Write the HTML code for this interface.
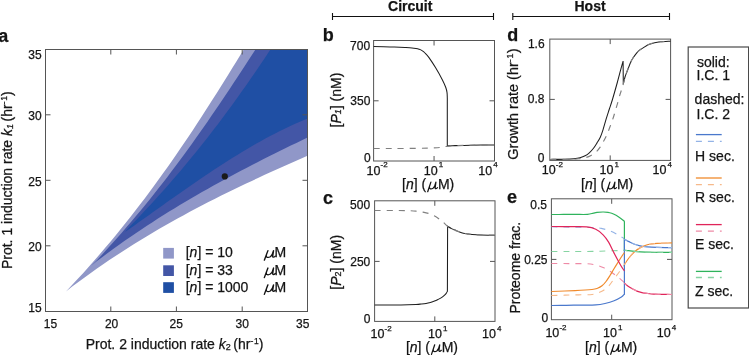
<!DOCTYPE html><html><head><meta charset="utf-8"><style>html,body{margin:0;padding:0;background:#fff;overflow:hidden;}svg{display:block;will-change:transform;}text{font-family:"Liberation Sans",sans-serif;fill:#141414;stroke:#141414;stroke-width:0.25px;}</style></head><body>
<svg width="749" height="355" viewBox="0 0 749 355">
<polygon points="66.0,291.5 71.8,285.3 77.6,279.1 83.3,272.9 88.8,266.7 94.3,260.5 99.7,254.3 105.0,248.1 110.2,241.9 115.4,235.7 120.4,229.4 125.4,223.2 130.4,217.0 135.2,210.8 140.0,204.6 144.7,198.4 149.3,192.2 153.9,186.0 158.4,179.8 162.9,173.6 167.3,167.4 171.7,161.2 176.0,155.0 180.2,148.8 184.5,142.6 188.6,136.4 192.8,130.2 196.8,124.0 200.9,117.8 204.9,111.6 208.9,105.3 212.9,99.1 216.8,92.9 220.7,86.7 224.6,80.5 228.5,74.3 232.3,68.1 236.1,61.9 239.9,55.7 243.7,49.5 307.5,49.5 307.5,155.8 301.3,158.5 295.1,161.2 288.9,163.9 282.7,166.7 276.5,169.5 270.3,172.3 264.2,175.1 258.0,178.0 251.8,180.9 245.6,183.8 239.4,186.7 233.2,189.7 227.0,192.7 220.8,195.8 214.6,198.9 208.4,202.1 202.2,205.3 196.0,208.5 189.8,211.8 183.7,215.2 177.5,218.6 171.3,222.0 165.1,225.5 158.9,229.1 152.7,232.7 146.5,236.4 140.3,240.2 134.1,244.1 127.9,248.0 121.7,251.9 115.5,256.0 109.3,260.1 103.2,264.3 97.0,268.6 90.8,273.0 84.6,277.4 78.4,281.9 72.2,286.6" fill="#9097c8"/>
<polygon points="91.0,266.0 96.6,260.4 101.8,254.9 106.9,249.3 111.9,243.8 116.9,238.2 121.8,232.7 126.6,227.1 131.4,221.6 136.0,216.0 140.7,210.5 145.2,204.9 149.7,199.4 154.2,193.8 158.5,188.3 162.9,182.7 167.2,177.2 171.4,171.6 175.6,166.1 179.7,160.5 183.8,155.0 187.8,149.4 191.8,143.9 195.8,138.3 199.7,132.8 203.6,127.2 207.5,121.7 211.3,116.1 215.1,110.6 218.9,105.0 222.6,99.5 226.3,93.9 230.0,88.4 233.7,82.8 237.4,77.3 241.0,71.7 244.6,66.2 248.3,60.6 251.9,55.1 255.5,49.5 307.5,49.5 307.5,137.5 301.9,140.2 296.4,142.9 290.8,145.6 285.3,148.3 279.7,151.0 274.2,153.8 268.6,156.5 263.1,159.3 257.5,162.2 252.0,165.0 246.4,167.9 240.9,170.8 235.3,173.7 229.8,176.7 224.2,179.7 218.7,182.7 213.1,185.8 207.6,188.9 202.0,192.0 196.5,195.2 190.9,198.5 185.4,201.7 179.8,205.1 174.3,208.4 168.7,211.8 163.2,215.3 157.6,218.8 152.1,222.4 146.5,226.0 141.0,229.7 135.4,233.4 129.9,237.2 124.3,241.1 118.8,245.0 113.2,249.0 107.7,253.0 102.1,257.2 96.6,261.3" fill="#4356a6"/>
<polygon points="125.0,232.0 129.0,227.3 133.6,222.6 138.1,218.0 142.5,213.3 146.9,208.6 151.2,203.9 155.5,199.2 159.7,194.6 163.9,189.9 168.1,185.2 172.1,180.5 176.2,175.8 180.2,171.2 184.1,166.5 188.0,161.8 191.9,157.1 195.7,152.4 199.5,147.8 203.2,143.1 206.9,138.4 210.5,133.7 214.1,129.1 217.7,124.4 221.2,119.7 224.7,115.0 228.2,110.3 231.6,105.7 235.0,101.0 238.4,96.3 241.7,91.6 245.0,86.9 248.3,82.3 251.5,77.6 254.7,72.9 257.9,68.2 261.1,63.5 264.2,58.9 267.3,54.2 270.4,49.5 307.5,49.5 307.5,118.6 302.8,120.5 298.1,122.5 293.5,124.6 288.8,126.7 284.1,129.0 279.4,131.3 274.7,133.7 270.1,136.1 265.4,138.6 260.7,141.2 256.0,143.8 251.3,146.5 246.7,149.3 242.0,152.1 237.3,154.9 232.6,157.8 227.9,160.8 223.3,163.7 218.6,166.8 213.9,169.8 209.2,172.9 204.6,176.1 199.9,179.2 195.2,182.4 190.5,185.7 185.8,188.9 181.2,192.2 176.5,195.5 171.8,198.8 167.1,202.1 162.4,205.4 157.8,208.7 153.1,212.1 148.4,215.4 143.7,218.8 139.0,222.1 134.4,225.5 129.7,228.8" fill="#1f4fa4"/>
<circle cx="224.8" cy="176.4" r="3.1" fill="#1a1a1a"/>
<rect x="163.2" y="247.9" width="10.7" height="10.7" fill="#9097c8"/>
<text x="185.7" y="257.4" font-size="14">[<tspan font-style="italic">n</tspan>] = 10</text>
<path transform="translate(264.0,257.4) scale(1.12,1)" d="M0.3,2.8 L3.5,-6.8 M2.1,-2.2 C1.5,0.2 3.8,0.5 5.6,-0.7 C7.1,-1.8 7.9,-3.8 8.5,-6.8 M8.5,-6.8 L7.8,-1.4 C7.6,0.1 8.7,0.2 10.1,-1.3" fill="none" stroke="#141414" stroke-width="1.25" stroke-linecap="round"/>
<text x="274.6" y="257.4" font-size="14">M</text>
<rect x="163.2" y="265.3" width="10.7" height="10.7" fill="#4356a6"/>
<text x="185.7" y="274.8" font-size="14">[<tspan font-style="italic">n</tspan>] = 33</text>
<path transform="translate(264.0,274.8) scale(1.12,1)" d="M0.3,2.8 L3.5,-6.8 M2.1,-2.2 C1.5,0.2 3.8,0.5 5.6,-0.7 C7.1,-1.8 7.9,-3.8 8.5,-6.8 M8.5,-6.8 L7.8,-1.4 C7.6,0.1 8.7,0.2 10.1,-1.3" fill="none" stroke="#141414" stroke-width="1.25" stroke-linecap="round"/>
<text x="274.6" y="274.8" font-size="14">M</text>
<rect x="163.2" y="282.2" width="10.7" height="10.7" fill="#1f4fa4"/>
<text x="185.7" y="291.6" font-size="14">[<tspan font-style="italic">n</tspan>] = 1000</text>
<path transform="translate(264.0,291.6) scale(1.12,1)" d="M0.3,2.8 L3.5,-6.8 M2.1,-2.2 C1.5,0.2 3.8,0.5 5.6,-0.7 C7.1,-1.8 7.9,-3.8 8.5,-6.8 M8.5,-6.8 L7.8,-1.4 C7.6,0.1 8.7,0.2 10.1,-1.3" fill="none" stroke="#141414" stroke-width="1.25" stroke-linecap="round"/>
<text x="274.6" y="291.6" font-size="14">M</text>
<rect x="45.5" y="49.5" width="262" height="262" fill="none" stroke="#555555" stroke-width="1"/>
<path d="M110.8,311.5V306.5M110.8,49.5V54.5M176.4,311.5V306.5M176.4,49.5V54.5M242.2,311.5V306.5M242.2,49.5V54.5M45.5,114.8H50.5M307.5,114.8H302.5M45.5,180.3H50.5M307.5,180.3H302.5M45.5,245.8H50.5M307.5,245.8H302.5" stroke="#555555" stroke-width="1" fill="none"/>
<text x="41.6" y="58.9" font-size="12" text-anchor="end">35</text>
<text x="41.6" y="119.7" font-size="12" text-anchor="end">30</text>
<text x="41.6" y="186.2" font-size="12" text-anchor="end">25</text>
<text x="41.6" y="250.7" font-size="12" text-anchor="end">20</text>
<text x="41.6" y="312.4" font-size="12" text-anchor="end">15</text>
<text x="50.4" y="328.2" font-size="12" text-anchor="middle" font-weight="normal" >15</text>
<text x="111.6" y="328.2" font-size="12" text-anchor="middle" font-weight="normal" >20</text>
<text x="176.2" y="328.2" font-size="12" text-anchor="middle" font-weight="normal" >25</text>
<text x="242.2" y="328.2" font-size="12" text-anchor="middle" font-weight="normal" >30</text>
<text x="302.7" y="328.2" font-size="12" text-anchor="middle" font-weight="normal" >35</text>
<text x="-1.8" y="41.6" font-size="18" text-anchor="start" font-weight="bold" >a</text>
<text x="85.7" y="348.8" font-size="14">Prot. 2 induction rate <tspan font-style="italic">k</tspan><tspan font-size="9" dy="1.6">2 </tspan><tspan dy="-1.6">(hr</tspan><tspan font-size="8.5" dy="-5.2">-</tspan><tspan font-size="8.5" dx="0.8">1</tspan><tspan dy="5.2">)</tspan></text>
<text transform="translate(11.8,180.2) rotate(-90)" font-size="14" text-anchor="middle">Prot. 1 induction rate <tspan font-style="italic">k</tspan><tspan font-size="9" dy="1.6" font-style="italic">1 </tspan><tspan dy="-1.6">(hr</tspan><tspan font-size="8.5" dy="-5.2">-</tspan><tspan font-size="8.5" dx="0.8">1</tspan><tspan dy="5.2">)</tspan></text>
<text x="410.2" y="11.0" font-size="14" text-anchor="middle" font-weight="bold" >Circuit</text>
<text x="590.05" y="10.7" font-size="14" text-anchor="middle" font-weight="bold" >Host</text>
<path d="M332.5,16.5H493.5M332.5,13.1V19.9M493.5,13.1V19.9M512.8,16.5H669.5M512.8,13.1V19.9M669.5,13.1V19.9" stroke="#111" stroke-width="1.1" fill="none"/>
<rect x="373.6" y="40.5" width="120.89999999999998" height="120.5" fill="none" stroke="#555555" stroke-width="1"/><path d="M434.05,40.5V45.5M434.05,161.0V156.0M373.6,100.8H378.6M494.5,100.8H489.5" stroke="#555555" stroke-width="1" fill="none"/>
<text x="370.1" y="49.8" font-size="12" text-anchor="end">700</text>
<text x="370.4" y="105" font-size="12" text-anchor="end">350</text>
<text x="370.6" y="161.5" font-size="12" text-anchor="end">0</text>
<text x="366.6" y="174.5" font-size="12.5">10<tspan font-size="8" dx="0.1" dy="-7.1">-2</tspan></text>
<text x="423.8" y="174.5" font-size="12.5">10<tspan font-size="8" dx="1.1" dy="-7.1">1</tspan></text>
<text x="478.3" y="174.5" font-size="12.5">10<tspan font-size="8" dx="1.1" dy="-7.1">4</tspan></text>
<text x="402.1" y="188.9" font-size="14">[<tspan font-style="italic">n</tspan>] (</text><path transform="translate(427.40000000000003,188.9) scale(1.0,1)" d="M0.3,2.8 L3.5,-6.8 M2.1,-2.2 C1.5,0.2 3.8,0.5 5.6,-0.7 C7.1,-1.8 7.9,-3.8 8.5,-6.8 M8.5,-6.8 L7.8,-1.4 C7.6,0.1 8.7,0.2 10.1,-1.3" fill="none" stroke="#141414" stroke-width="1.25" stroke-linecap="round"/><text x="437.9" y="188.9" font-size="14">M)</text>
<text x="322.7" y="40.7" font-size="18" text-anchor="start" font-weight="bold" >b</text>
<text transform="translate(340.9,100.0) rotate(-90)" font-size="14" text-anchor="middle">[<tspan font-style="italic">P</tspan><tspan font-size="9" dy="0.4" font-style="italic">1</tspan><tspan dy="-0.4">] (nM)</tspan></text>
<path d="M373.70,46.50 C376.42,46.57 384.78,46.73 390.00,46.90 C395.22,47.07 401.33,47.33 405.00,47.50 C408.67,47.67 410.17,47.73 412.00,47.90 C413.83,48.07 414.83,48.27 416.00,48.50 C417.17,48.73 418.00,48.95 419.00,49.30 C420.00,49.65 421.00,49.98 422.00,50.60 C423.00,51.22 423.83,51.83 425.00,53.00 C426.17,54.17 427.25,55.17 429.00,57.60 C430.75,60.03 433.28,63.92 435.50,67.60 C437.72,71.28 440.60,76.42 442.30,79.70 C444.00,82.98 444.92,85.18 445.70,87.30 C446.48,89.42 446.73,90.62 447.00,92.40 C447.27,94.18 447.25,96.40 447.30,98.00 C447.35,99.60 447.30,101.33 447.30,102.00 L447.3,145.9 L447.30,145.90 C448.17,145.87 448.58,145.82 452.50,145.70 C456.42,145.58 463.80,145.32 470.80,145.20 C477.80,145.08 490.55,145.03 494.50,145.00" fill="none" stroke="#1e1e1e" stroke-width="1.05"/>
<path d="M373.70,148.50 C375.89,148.50 382.47,148.50 386.85,148.50 C391.23,148.50 394.48,148.53 400.00,148.50 C405.52,148.47 414.67,148.40 420.00,148.30 C425.33,148.20 428.67,148.03 432.00,147.90 C435.33,147.77 438.00,147.67 440.00,147.50 C442.00,147.33 442.78,147.12 444.00,146.90 C445.22,146.68 445.88,146.40 447.30,146.20 C448.72,146.00 448.58,145.87 452.50,145.70 C456.42,145.53 463.80,145.32 470.80,145.20 C477.80,145.08 490.55,145.03 494.50,145.00" fill="none" stroke="#808080" stroke-width="1.15" stroke-dasharray="6 6"/>
<rect x="374.6" y="200.8" width="120.39999999999998" height="120.59999999999997" fill="none" stroke="#555555" stroke-width="1"/><path d="M434.8,200.8V205.8M434.8,321.4V316.4M374.6,261.4H379.6M495,261.4H490" stroke="#555555" stroke-width="1" fill="none"/>
<text x="370.1" y="208.6" font-size="12" text-anchor="end">500</text>
<text x="370.3" y="265.6" font-size="12" text-anchor="end">250</text>
<text x="370.4" y="322.8" font-size="12" text-anchor="end">0</text>
<text x="370.6" y="337.6" font-size="12.5">10<tspan font-size="8" dx="0.1" dy="-7.1">-2</tspan></text>
<text x="428.0" y="337.6" font-size="12.5">10<tspan font-size="8" dx="1.1" dy="-7.1">1</tspan></text>
<text x="482.0" y="337.6" font-size="12.5">10<tspan font-size="8" dx="1.1" dy="-7.1">4</tspan></text>
<text x="405.9" y="351.6" font-size="14">[<tspan font-style="italic">n</tspan>] (</text><path transform="translate(431.20000000000005,351.6) scale(1.0,1)" d="M0.3,2.8 L3.5,-6.8 M2.1,-2.2 C1.5,0.2 3.8,0.5 5.6,-0.7 C7.1,-1.8 7.9,-3.8 8.5,-6.8 M8.5,-6.8 L7.8,-1.4 C7.6,0.1 8.7,0.2 10.1,-1.3" fill="none" stroke="#141414" stroke-width="1.25" stroke-linecap="round"/><text x="441.7" y="351.6" font-size="14">M)</text>
<text x="323.1" y="203.6" font-size="18" text-anchor="start" font-weight="bold" >c</text>
<text transform="translate(340.9,262.3) rotate(-90)" font-size="14" text-anchor="middle">[<tspan font-style="italic">P</tspan><tspan font-size="9" dy="0.4">2</tspan><tspan dy="-0.4">] (nM)</tspan></text>
<path d="M374.70,305.00 C376.89,304.99 383.47,304.97 387.85,304.95 C392.23,304.93 396.31,304.99 401.00,304.90 C405.69,304.81 412.65,304.55 416.00,304.40 C419.35,304.25 419.43,304.17 421.10,304.00 C422.77,303.83 424.45,303.67 426.00,303.40 C427.55,303.13 428.98,302.78 430.40,302.40 C431.82,302.02 433.20,301.60 434.50,301.10 C435.80,300.60 437.03,299.98 438.20,299.40 C439.37,298.82 440.48,298.27 441.50,297.60 C442.52,296.93 443.52,296.10 444.30,295.40 C445.08,294.70 445.68,294.10 446.20,293.40 C446.72,292.70 447.20,291.57 447.40,291.20 L447.6,226.3 L447.60,226.30 C448.25,226.68 450.15,227.92 451.50,228.60 C452.85,229.28 454.37,229.83 455.70,230.40 C457.03,230.97 458.23,231.53 459.50,232.00 C460.77,232.47 461.97,232.88 463.30,233.20 C464.63,233.52 466.02,233.68 467.50,233.90 C468.98,234.12 469.95,234.32 472.20,234.50 C474.45,234.68 477.23,234.88 481.00,235.00 C484.77,235.12 492.50,235.17 494.80,235.20" fill="none" stroke="#1e1e1e" stroke-width="1.05"/>
<path d="M374.70,210.50 C378.08,210.50 389.00,210.45 395.00,210.50 C401.00,210.55 407.03,210.67 410.70,210.80 C414.37,210.93 415.00,211.08 417.00,211.30 C419.00,211.52 420.80,211.75 422.70,212.10 C424.60,212.45 426.48,212.78 428.40,213.40 C430.32,214.02 432.40,214.87 434.20,215.80 C436.00,216.73 437.62,217.87 439.20,219.00 C440.78,220.13 442.30,221.38 443.70,222.60 C445.10,223.82 446.30,225.30 447.60,226.30 C448.90,227.30 450.15,227.92 451.50,228.60 C452.85,229.28 454.37,229.83 455.70,230.40 C457.03,230.97 458.23,231.53 459.50,232.00 C460.77,232.47 461.97,232.88 463.30,233.20 C464.63,233.52 466.02,233.68 467.50,233.90 C468.98,234.12 469.95,234.32 472.20,234.50 C474.45,234.68 477.23,234.88 481.00,235.00 C484.77,235.12 492.50,235.17 494.80,235.20" fill="none" stroke="#808080" stroke-width="1.15" stroke-dasharray="6 6"/>
<rect x="549.8" y="39.1" width="120.80000000000007" height="121.30000000000001" fill="none" stroke="#555555" stroke-width="1"/><path d="M610.2,39.1V44.1M610.2,160.4V155.4M549.8,99.4H554.8M670.6,99.4H665.6" stroke="#555555" stroke-width="1" fill="none"/>
<text x="544.6" y="48.2" font-size="12" text-anchor="end">1.6</text>
<text x="544.4" y="102.8" font-size="12" text-anchor="end">0.8</text>
<text x="544.5" y="161.8" font-size="12" text-anchor="end">0</text>
<text x="541.8" y="173.8" font-size="12.5">10<tspan font-size="8" dx="0.1" dy="-7.1">-2</tspan></text>
<text x="599.5" y="173.8" font-size="12.5">10<tspan font-size="8" dx="1.1" dy="-7.1">1</tspan></text>
<text x="652.6" y="173.8" font-size="12.5">10<tspan font-size="8" dx="1.1" dy="-7.1">4</tspan></text>
<text x="581.1" y="188.9" font-size="14">[<tspan font-style="italic">n</tspan>] (</text><path transform="translate(606.4,188.9) scale(1.0,1)" d="M0.3,2.8 L3.5,-6.8 M2.1,-2.2 C1.5,0.2 3.8,0.5 5.6,-0.7 C7.1,-1.8 7.9,-3.8 8.5,-6.8 M8.5,-6.8 L7.8,-1.4 C7.6,0.1 8.7,0.2 10.1,-1.3" fill="none" stroke="#141414" stroke-width="1.25" stroke-linecap="round"/><text x="616.9" y="188.9" font-size="14">M)</text>
<text x="507.2" y="40.7" font-size="18" text-anchor="start" font-weight="bold" >d</text>
<text transform="translate(517.9,104.1) rotate(-90)" font-size="14.5" text-anchor="middle">Growth rate (hr<tspan font-size="9" dy="-5.2">-</tspan><tspan font-size="9" dx="0.8">1</tspan><tspan dy="5.2">)</tspan></text>
<path d="M550.50,159.40 C552.92,159.37 561.08,159.32 565.00,159.20 C568.92,159.08 571.50,158.95 574.00,158.70 C576.50,158.45 578.15,158.18 580.00,157.70 C581.85,157.22 583.55,156.62 585.10,155.80 C586.65,154.98 587.90,154.07 589.30,152.80 C590.70,151.53 592.23,149.82 593.50,148.20 C594.77,146.58 595.77,144.93 596.90,143.10 C598.03,141.27 599.28,139.42 600.30,137.20 C601.32,134.98 602.03,132.80 603.00,129.80 C603.97,126.80 605.07,122.58 606.10,119.20 C607.13,115.82 608.17,112.70 609.20,109.50 C610.23,106.30 610.95,104.50 612.30,100.00 C613.65,95.50 615.92,87.48 617.30,82.50 C618.68,77.52 619.63,73.67 620.60,70.10 C621.57,66.53 622.68,62.60 623.10,61.10 L623.3,84.2 L623.30,84.20 C623.58,83.00 624.30,79.32 625.00,77.00 C625.70,74.68 626.52,72.85 627.50,70.30 C628.48,67.75 629.90,63.87 630.90,61.70 C631.90,59.53 632.52,58.78 633.50,57.30 C634.48,55.82 635.80,53.98 636.80,52.80 C637.80,51.62 638.50,50.98 639.50,50.20 C640.50,49.42 641.27,49.05 642.80,48.10 C644.33,47.15 646.73,45.40 648.70,44.50 C650.67,43.60 652.63,43.15 654.60,42.70 C656.57,42.25 657.83,42.05 660.50,41.80 C663.17,41.55 668.92,41.30 670.60,41.20" fill="none" stroke="#1e1e1e" stroke-width="1.05"/>
<path d="M550.50,159.40 C554.08,159.38 567.08,159.43 572.00,159.30 C576.92,159.17 577.68,158.90 580.00,158.60 C582.32,158.30 584.07,158.03 585.90,157.50 C587.73,156.97 589.23,156.38 591.00,155.40 C592.77,154.42 594.95,153.02 596.50,151.60 C598.05,150.18 599.10,148.67 600.30,146.90 C601.50,145.13 602.65,142.90 603.70,141.00 C604.75,139.10 605.62,137.70 606.60,135.50 C607.58,133.30 608.60,130.43 609.60,127.80 C610.60,125.17 611.67,122.45 612.60,119.70 C613.53,116.95 614.35,114.12 615.20,111.30 C616.05,108.48 616.90,105.60 617.70,102.80 C618.50,100.00 619.32,96.80 620.00,94.50 C620.68,92.20 621.28,90.65 621.80,89.00 C622.32,87.35 622.57,86.60 623.10,84.60 C623.63,82.60 624.27,79.38 625.00,77.00 C625.73,74.62 626.52,72.85 627.50,70.30 C628.48,67.75 629.90,63.87 630.90,61.70 C631.90,59.53 632.52,58.78 633.50,57.30 C634.48,55.82 635.80,53.98 636.80,52.80 C637.80,51.62 638.50,50.98 639.50,50.20 C640.50,49.42 641.27,49.05 642.80,48.10 C644.33,47.15 646.73,45.40 648.70,44.50 C650.67,43.60 652.63,43.15 654.60,42.70 C656.57,42.25 657.83,42.05 660.50,41.80 C663.17,41.55 668.92,41.30 670.60,41.20" fill="none" stroke="#808080" stroke-width="1.15" stroke-dasharray="6 6"/>
<rect x="551.4" y="198.8" width="120.60000000000002" height="120.89999999999998" fill="none" stroke="#555555" stroke-width="1"/><path d="M611.7,198.8V203.8M611.7,319.7V314.7M551.4,259.4H556.4M672,259.4H667" stroke="#555555" stroke-width="1" fill="none"/>
<text x="546.9" y="208.6" font-size="12" text-anchor="end">0.5</text>
<text x="547.5" y="263.6" font-size="12" text-anchor="end">0.25</text>
<text x="548.3" y="322.2" font-size="12" text-anchor="end">0</text>
<text x="545.4" y="336.8" font-size="12.5">10<tspan font-size="8" dx="0.1" dy="-7.1">-2</tspan></text>
<text x="603.1" y="336.8" font-size="12.5">10<tspan font-size="8" dx="1.1" dy="-7.1">1</tspan></text>
<text x="656.7" y="336.8" font-size="12.5">10<tspan font-size="8" dx="1.1" dy="-7.1">4</tspan></text>
<text x="585.1" y="351.5" font-size="14">[<tspan font-style="italic">n</tspan>] (</text><path transform="translate(610.4,351.5) scale(1.0,1)" d="M0.3,2.8 L3.5,-6.8 M2.1,-2.2 C1.5,0.2 3.8,0.5 5.6,-0.7 C7.1,-1.8 7.9,-3.8 8.5,-6.8 M8.5,-6.8 L7.8,-1.4 C7.6,0.1 8.7,0.2 10.1,-1.3" fill="none" stroke="#141414" stroke-width="1.25" stroke-linecap="round"/><text x="620.9" y="351.5" font-size="14">M)</text>
<text x="506.9" y="203.0" font-size="18" text-anchor="start" font-weight="bold" >e</text>
<text transform="translate(520.3,267.7) rotate(-90)" font-size="14" text-anchor="middle">Proteome frac.</text>
<path d="M551.40,251.50 C553.78,251.50 560.93,251.50 565.70,251.50 C570.47,251.50 574.28,251.55 580.00,251.50 C585.72,251.45 593.40,251.37 600.00,251.20 C606.60,251.03 615.53,250.65 619.60,250.50 C623.67,250.35 623.60,250.33 624.40,250.30" fill="none" stroke="#86d4a2" stroke-width="1.1" stroke-dasharray="6 6"/>
<path d="M551.40,263.50 C554.33,263.52 563.13,263.57 569.00,263.60 C574.87,263.63 582.13,263.47 586.60,263.70 C591.07,263.93 593.05,264.37 595.80,265.00 C598.55,265.63 600.67,266.42 603.10,267.50 C605.53,268.58 607.95,269.92 610.40,271.50 C612.85,273.08 615.65,275.32 617.80,277.00 C619.95,278.68 622.20,280.70 623.30,281.60 C624.40,282.50 624.22,282.27 624.40,282.40" fill="none" stroke="#ee8aa6" stroke-width="1.1" stroke-dasharray="6 6"/>
<path d="M551.40,226.80 C553.66,226.84 560.44,226.96 564.97,227.03 C569.49,227.11 574.01,227.19 578.53,227.27 C583.06,227.34 588.31,227.31 592.10,227.50 C595.89,227.69 598.25,227.80 601.30,228.40 C604.35,229.00 607.65,230.03 610.40,231.10 C613.15,232.17 615.47,233.55 617.80,234.80 C620.13,236.05 623.30,237.97 624.40,238.60" fill="none" stroke="#93b3e6" stroke-width="1.1" stroke-dasharray="6 6"/>
<path d="M551.40,295.50 C553.66,295.44 560.44,295.28 564.97,295.17 C569.49,295.06 574.01,294.94 578.53,294.83 C583.06,294.72 588.31,295.04 592.10,294.50 C595.89,293.96 598.55,293.00 601.30,291.60 C604.05,290.20 606.47,288.23 608.60,286.10 C610.73,283.97 612.27,281.23 614.10,278.80 C615.93,276.37 617.88,273.85 619.60,271.50 C621.32,269.15 623.60,265.83 624.40,264.70" fill="none" stroke="#f6b98a" stroke-width="1.1" stroke-dasharray="6 6"/>
<path d="M551.40,214.50 C553.41,214.49 559.42,214.48 563.43,214.47 C567.44,214.46 571.46,214.44 575.47,214.43 C579.48,214.42 584.51,214.62 587.50,214.40 C590.49,214.18 591.82,213.43 593.40,213.10 C594.98,212.77 595.42,212.58 597.00,212.40 C598.58,212.22 601.07,212.02 602.90,212.00 C604.73,211.98 606.53,212.08 608.00,212.30 C609.47,212.52 610.35,212.80 611.70,213.30 C613.05,213.80 614.63,214.48 616.10,215.30 C617.57,216.12 619.22,217.28 620.50,218.20 C621.78,219.12 623.15,220.20 623.80,220.80 C624.45,221.40 624.30,221.63 624.40,221.80 L624.4,250.3 L624.40,250.30 C625.08,250.37 626.82,250.52 628.50,250.70 C630.18,250.88 631.62,251.17 634.50,251.40 C637.38,251.63 641.88,251.95 645.80,252.10 C649.72,252.25 653.63,252.25 658.00,252.30 C662.37,252.35 669.67,252.38 672.00,252.40" fill="none" stroke="#2fb35c" stroke-width="1.2"/>
<path d="M551.40,305.50 C553.87,305.47 561.27,305.37 566.20,305.30 C571.13,305.23 576.07,305.17 581.00,305.10 C585.93,305.03 591.80,305.17 595.80,304.90 C599.80,304.63 601.95,304.18 605.00,303.50 C608.05,302.82 611.37,301.87 614.10,300.80 C616.83,299.73 619.68,298.20 621.40,297.10 C623.12,296.00 623.90,294.68 624.40,294.20 L624.4,239.2 L624.40,239.20 C625.17,239.60 627.32,240.77 629.00,241.60 C630.68,242.43 632.67,243.50 634.50,244.20 C636.33,244.90 638.12,245.38 640.00,245.80 C641.88,246.22 642.95,246.43 645.80,246.70 C648.65,246.97 652.73,247.25 657.10,247.40 C661.47,247.55 669.52,247.57 672.00,247.60" fill="none" stroke="#4a78cc" stroke-width="1.2"/>
<path d="M551.40,291.50 C555.33,291.35 568.23,290.93 575.00,290.60 C581.77,290.27 588.25,289.88 592.00,289.50 C595.75,289.12 595.83,288.92 597.50,288.30 C599.17,287.68 600.58,286.93 602.00,285.80 C603.42,284.67 604.67,283.22 606.00,281.50 C607.33,279.78 608.67,277.62 610.00,275.50 C611.33,273.38 612.58,271.13 614.00,268.80 C615.42,266.47 617.17,263.63 618.50,261.50 C619.83,259.37 621.02,257.48 622.00,256.00 C622.98,254.52 624.00,253.17 624.40,252.60" fill="none" stroke="#f08a2c" stroke-width="1.2"/>
<path d="M624.40,264.70 C625.08,263.67 626.82,260.67 628.50,258.50 C630.18,256.33 632.55,253.48 634.50,251.70 C636.45,249.92 638.32,248.87 640.20,247.80 C642.08,246.73 644.00,245.93 645.80,245.30 C647.60,244.67 649.12,244.33 651.00,244.00 C652.88,243.67 653.60,243.48 657.10,243.30 C660.60,243.12 669.52,242.97 672.00,242.90" fill="none" stroke="#f08a2c" stroke-width="1.2"/>
<path d="M551.40,226.50 C554.33,226.53 563.13,226.63 569.00,226.70 C574.87,226.77 582.13,226.47 586.60,226.90 C591.07,227.33 593.05,227.98 595.80,229.30 C598.55,230.62 600.97,232.67 603.10,234.80 C605.23,236.93 606.77,239.05 608.60,242.10 C610.43,245.15 612.12,249.28 614.10,253.10 C616.08,256.92 618.78,262.02 620.50,265.00 C622.22,267.98 623.75,270.00 624.40,271.00" fill="none" stroke="#e0245a" stroke-width="1.2"/>
<path d="M624.40,283.20 C625.08,283.75 627.12,285.53 628.50,286.50 C629.88,287.47 631.30,288.23 632.70,289.00 C634.10,289.77 635.35,290.50 636.90,291.10 C638.45,291.70 640.17,292.20 642.00,292.60 C643.83,293.00 645.93,293.25 647.90,293.50 C649.87,293.75 651.68,293.97 653.80,294.10 C655.92,294.23 657.57,294.23 660.60,294.30 C663.63,294.37 670.10,294.47 672.00,294.50" fill="none" stroke="#e0245a" stroke-width="1.2"/>
<path d="M624.40,250.30 C625.08,250.37 626.82,250.52 628.50,250.70 C630.18,250.88 631.62,251.17 634.50,251.40 C637.38,251.63 641.88,251.95 645.80,252.10 C649.72,252.25 653.63,252.25 658.00,252.30 C662.37,252.35 669.67,252.38 672.00,252.40" fill="none" stroke="#86d4a2" stroke-width="1.1" stroke-dasharray="6 6" stroke-dashoffset="3"/>
<path d="M624.40,283.20 C625.08,283.75 627.12,285.53 628.50,286.50 C629.88,287.47 631.30,288.23 632.70,289.00 C634.10,289.77 635.35,290.50 636.90,291.10 C638.45,291.70 640.17,292.20 642.00,292.60 C643.83,293.00 645.93,293.25 647.90,293.50 C649.87,293.75 651.68,293.97 653.80,294.10 C655.92,294.23 657.57,294.23 660.60,294.30 C663.63,294.37 670.10,294.47 672.00,294.50" fill="none" stroke="#ee8aa6" stroke-width="1.1" stroke-dasharray="6 6" stroke-dashoffset="3"/>
<path d="M624.40,239.20 C625.17,239.60 627.32,240.77 629.00,241.60 C630.68,242.43 632.67,243.50 634.50,244.20 C636.33,244.90 638.12,245.38 640.00,245.80 C641.88,246.22 642.95,246.43 645.80,246.70 C648.65,246.97 652.73,247.25 657.10,247.40 C661.47,247.55 669.52,247.57 672.00,247.60" fill="none" stroke="#93b3e6" stroke-width="1.1" stroke-dasharray="6 6" stroke-dashoffset="3"/>
<path d="M624.40,264.70 C625.08,263.67 626.82,260.67 628.50,258.50 C630.18,256.33 632.55,253.48 634.50,251.70 C636.45,249.92 638.32,248.87 640.20,247.80 C642.08,246.73 644.00,245.93 645.80,245.30 C647.60,244.67 649.12,244.33 651.00,244.00 C652.88,243.67 653.60,243.48 657.10,243.30 C660.60,243.12 669.52,242.97 672.00,242.90" fill="none" stroke="#f6b98a" stroke-width="1.1" stroke-dasharray="6 6" stroke-dashoffset="3"/>
<rect x="688.2" y="47" width="60.4" height="261" fill="none" stroke="#4a4a4a" stroke-width="1.2"/>
<text x="696.9" y="66.9" font-size="14" text-anchor="start" font-weight="normal" >solid:</text>
<text x="696.6" y="79.8" font-size="14" text-anchor="start" font-weight="normal" >I.C. 1</text>
<text x="694.6" y="103.6" font-size="14" text-anchor="start" font-weight="normal" >dashed:</text>
<text x="696.6" y="118.8" font-size="14" text-anchor="start" font-weight="normal" >I.C. 2</text>
<path d="M695.9,134.6H721.7" stroke="#4a78cc" stroke-width="1.3"/>
<path d="M695.9,141.3H721.7" stroke="#93b3e6" stroke-width="1.3" stroke-dasharray="6 6"/>
<text x="695.1" y="161.1" font-size="14" text-anchor="start" font-weight="normal" >H sec.</text>
<path d="M695.9,178H721.7" stroke="#f08a2c" stroke-width="1.3"/>
<path d="M695.9,184.7H721.7" stroke="#f6b98a" stroke-width="1.3" stroke-dasharray="6 6"/>
<text x="695.1" y="202.4" font-size="14" text-anchor="start" font-weight="normal" >R sec.</text>
<path d="M695.9,224.6H721.7" stroke="#e0245a" stroke-width="1.3"/>
<path d="M695.9,231.1H721.7" stroke="#ee8aa6" stroke-width="1.3" stroke-dasharray="6 6"/>
<text x="695.1" y="249.2" font-size="14" text-anchor="start" font-weight="normal" >E sec.</text>
<path d="M695.9,271.4H721.7" stroke="#2fb35c" stroke-width="1.3"/>
<path d="M695.9,277.5H721.7" stroke="#86d4a2" stroke-width="1.3" stroke-dasharray="6 6"/>
<text x="695.1" y="295.5" font-size="14" text-anchor="start" font-weight="normal" >Z sec.</text>
</svg></body></html>
